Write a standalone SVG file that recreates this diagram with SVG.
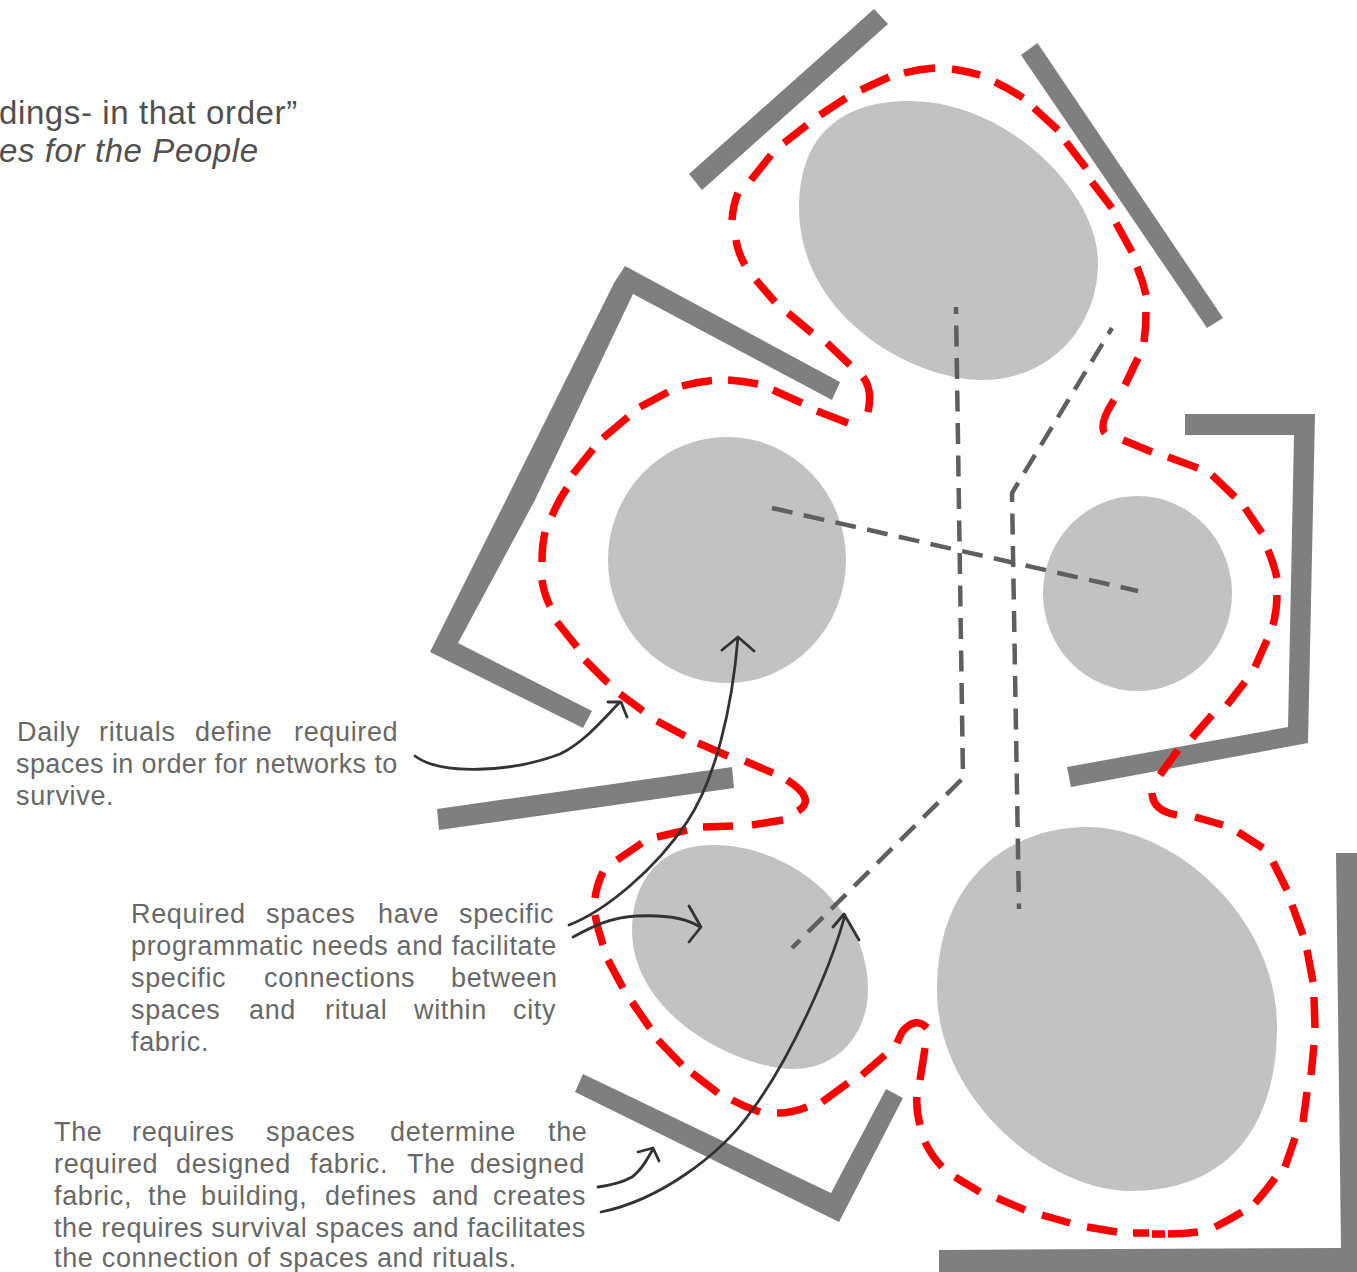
<svg xmlns="http://www.w3.org/2000/svg" width="1357" height="1272" viewBox="0 0 1357 1272">
<style>
.wall{fill:#7f7f7f}
.space{fill:#c2c2c2}
.red{fill:none;stroke:#f00;stroke-width:7.5}
.net{fill:none;stroke:#5f5f5f;stroke-width:4.5;stroke-dasharray:21 11.500}
.arrow{fill:none;stroke:#333;stroke-width:2.800;stroke-linecap:round;stroke-linejoin:round}
text{font-family:"Liberation Sans",Arial,sans-serif;fill:#686868;font-size:27px;letter-spacing:.65px}
.q{fill:#505050;font-size:33px;letter-spacing:.6px}
</style>
<rect width="1357" height="1272" fill="#fff"/>
<g id="walls">
<polygon id="wall-top-left" class="wall" points="874,9 888,24 702,190 689,174"/>
<polygon id="wall-top-right" class="wall" points="1037.500,43 1021,55 1207,328 1223,318"/>
<polygon id="wall-left" class="wall" points="625,266 840,382 832,400 633,294 535,500 458,643 592,711 583,728 430,652 506,500 614,283"/>
<polygon id="wall-right" class="wall" points="1185,414 1315,414 1308,743 1071,787 1067,767 1288,727 1294,435 1185,435"/>
<polygon id="wall-mid" class="wall" points="437,809 732,767 734,788 439,830"/>
<polygon id="wall-bottom-left" class="wall" points="583,1074 575,1092 839,1222 903,1098 886,1089 831,1193"/>
<polygon id="wall-bottom-right" class="wall" points="1336,853 1357,853 1357,1272 939,1272 939,1250 1341,1248"/>
</g>
<g id="spaces">
<path id="space-top" class="space" d="M909,101C1006,101 1098,191 1098,263C1098,326 1051,380 982,380C914,380 799,318 799,207C799,143 834,101 909,101Z"/>
<ellipse id="space-left" class="space" cx="727" cy="560" rx="119" ry="123"/>
<ellipse id="space-right" class="space" cx="1137.500" cy="593.500" rx="94.500" ry="97.500"/>
<path id="space-bl" class="space" d="M713,845C792,845 868,909 868,990C868,1031 840,1069 793,1069C741,1069 632,1017 632,930C632,889 653,845 713,845Z"/>
<path id="space-br" class="space" d="M1087,827C1175,827 1277,918 1277,1027C1277,1118 1235,1191 1130,1191C1049,1191 937,1101 937,990C937,874 1015,827 1087,827Z"/>
</g>
<g id="connectors">
<path id="boundary" class="red" d="M904,73Q919,69 935,68M952,69Q966,71 980,75M995,82Q1010,89 1023,98M1034,108L1058,130M1066,142L1086,168M1092,182L1112,208M1116,223L1132,252M1137,267Q1143,281 1146,295M1146,312Q1146,327 1144,342M1138,358L1125,385M1114,400Q1098,425 1105,433M1123,440L1152,452M1168,457L1198,468M1212,475L1235,497M1245,508L1262,533M1268,550Q1274,564 1277,578M1277,595Q1277,610 1273,625M1267,640L1255,667M1245,682L1227,705M1212,715L1192,738M1178,750L1160,775M1152,793Q1153,811 1177,815M1195,817L1223,825M1238,832L1263,848M1273,862L1287,890M1292,905L1303,935M1307,950L1313,982M1314,997L1315,1028M1314,1045L1311,1075M1307,1092L1303,1122M1295,1138L1285,1167M1275,1178Q1266,1191 1255,1203M1242,1212Q1229,1220 1215,1227M1198,1232Q1183,1234 1168,1234M1165,1234L1152,1234M1149,1233L1133,1233M1117,1232L1087,1227M1070,1223L1042,1215M1025,1210L997,1198M980,1192L955,1177M942,1167Q931,1155 925,1142M920,1125Q916,1110 917,1097M920,1080L925,1048M927,1028Q915,1016 902,1032L897,1043M885,1055L862,1075M848,1083L822,1102M807,1107Q792,1113 777,1113M760,1112Q745,1107 732,1100M718,1093L692,1073M682,1065L658,1040M650,1028L632,1002M623,988L608,960M603,945Q598,930 595,915M595,898Q597,884 603,872M617,860L642,843M657,837L687,830M703,827L733,826M752,825L783,820M798,811Q817,799 787,780M773,773L745,761M728,756L698,743M685,736L657,721M643,711L620,694M608,683L585,660M577,647L557,622M550,606Q544,594 542,580M542,562Q542,545 545,532M552,516Q558,501 567,488M573,474L593,449M603,438L628,417M640,407L668,392M682,386Q697,382 712,380.500M728,380Q743,381 758,384M773,390L802,403M817,411L848,423M868,412Q873,390 863,377M850,365L827,343M812,333L788,313M775,302L756,280M745,265Q738,253 736,240M732,220Q733,205 738,193M751,180L771,155M784,143L807,125M820,115L846,98M861,90L889,77"/>
<path class="net" stroke-dashoffset="14" d="M956,307L963,778L792,948"/>
<path class="net" stroke-dashoffset="14" d="M1112,328L1012,493L1019,909"/>
<path class="net" d="M772,508L1138,591"/>
<path class="arrow" d="M415,756C440,775 510,773 560,754C585,742 605,717 620,702M608,702L621,702L627,717"/>
<path class="arrow" d="M569,925C605,911 655,870 687,822C715,780 732,710 738,637M722,650L738,637L754,651"/>
<path class="arrow" d="M573,937C590,928 610,917 637,916C660,915 685,917 700,927M689,906L701,927L689,942"/>
<path class="arrow" d="M601,1212C660,1200 720,1155 750,1113C790,1060 830,970 845,915M833,927L844,914L859,940"/>
<path class="arrow" d="M598,1187C612,1185 625,1181 632,1177C642,1170 648,1158 653,1149M638,1152L653,1148L659,1161"/>
</g>
<g id="quote">
<text class="q" x="-1" y="124">dings- in that order”</text>
<text class="q" x="-1" y="162" font-style="italic" letter-spacing=".4">es for the People</text>
</g>
<g id="note-1">
<text y="741"><tspan x="17">Daily</tspan><tspan x="99">rituals</tspan><tspan x="195">define</tspan><tspan x="294">required</tspan></text>
<text x="16" y="773" textLength="382">spaces in order for networks to</text>
<text x="16" y="805">survive.</text>
</g>
<g id="note-2">
<text y="923"><tspan x="131">Required</tspan><tspan x="266">spaces</tspan><tspan x="378">have</tspan><tspan x="459">specific</tspan></text>
<text x="131" y="955" textLength="426">programmatic needs and facilitate</text>
<text y="987"><tspan x="131">specific</tspan><tspan x="264">connections</tspan><tspan x="451">between</tspan></text>
<text y="1019"><tspan x="131">spaces</tspan><tspan x="249">and</tspan><tspan x="325">ritual</tspan><tspan x="414">within</tspan><tspan x="513">city</tspan></text>
<text x="131" y="1051">fabric.</text>
</g>
<g id="note-3">
<text y="1141"><tspan x="54">The</tspan><tspan x="132">requires</tspan><tspan x="266">spaces</tspan><tspan x="390">determine</tspan><tspan x="548">the</tspan></text>
<text y="1173"><tspan x="54">required</tspan><tspan x="176">designed</tspan><tspan x="310">fabric.</tspan><tspan x="407">The</tspan><tspan x="470">designed</tspan></text>
<text y="1205"><tspan x="54">fabric,</tspan><tspan x="148">the</tspan><tspan x="201">building,</tspan><tspan x="325">defines</tspan><tspan x="432">and</tspan><tspan x="493">creates</tspan></text>
<text x="54" y="1237" textLength="532">the requires survival spaces and facilitates</text>
<text x="54" y="1267" textLength="463">the connection of spaces and rituals.</text>
</g>
</svg>
